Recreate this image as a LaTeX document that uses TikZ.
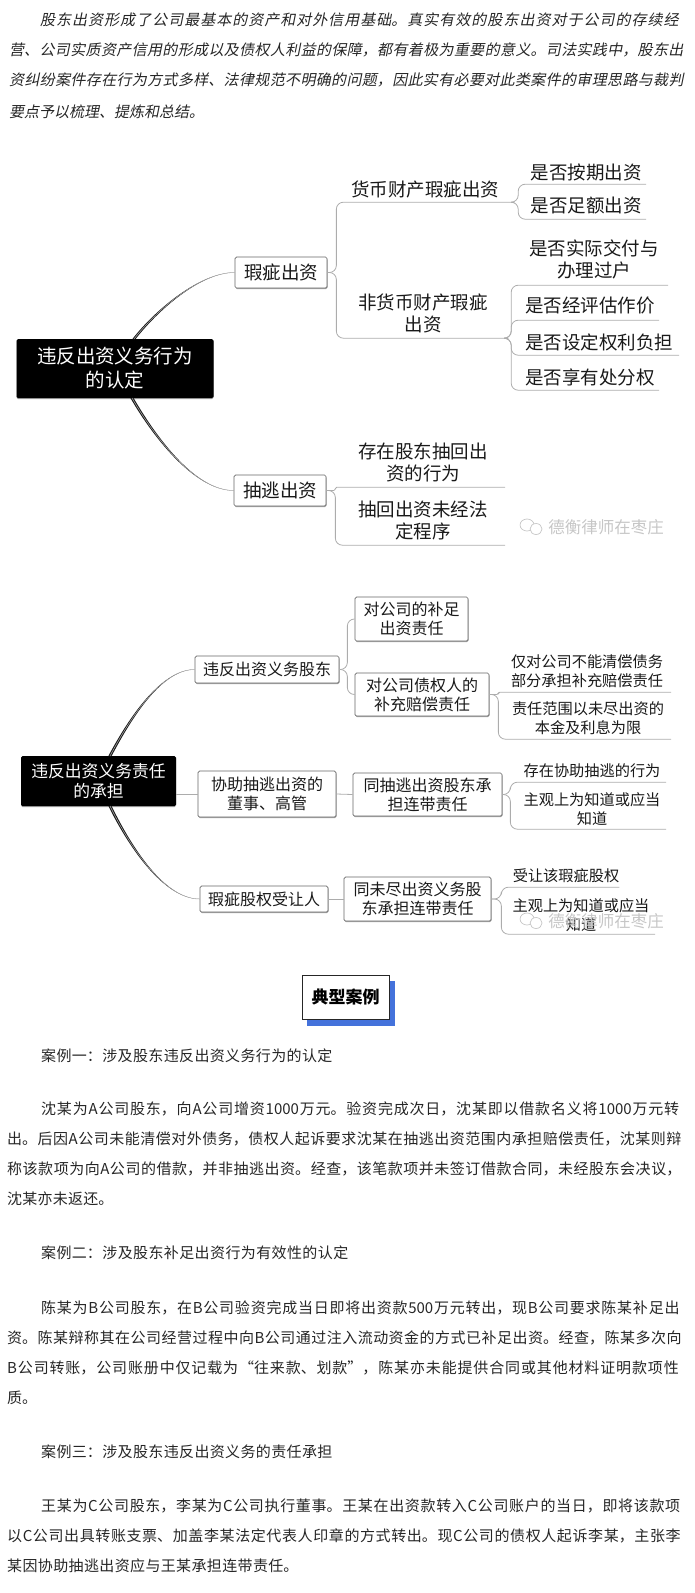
\documentclass[tikz,border=0pt]{standalone}
\usepackage{fontspec}
\setmainfont{Noto Sans CJK SC}
\newfontfamily\slantfont[FakeSlant=0.2]{Noto Sans CJK SC}
\usepackage{xcolor}
\usetikzlibrary{calc,shadows}
\XeTeXlinebreaklocale "zh"
\XeTeXlinebreakskip=0pt plus 4pt minus 1pt
\tolerance=10000
\definecolor{titleblue}{HTML}{4472DB}
\tikzset{
    bigtext/.style={font=\fontsize{18.5}{22}\selectfont, text=black!90},
    midtext/.style={font=\fontsize{16}{19}\selectfont, text=black!90},
    smalltext/.style={font=\fontsize{15.2}{19}\selectfont, text=black!90},
    leaf/.style 2 args={inner sep=0pt, minimum width=#1pt, minimum height=#2pt, align=center},
    subbox/.style 2 args={draw=gray!80!black, fill=white, line width=0.7pt, rounded corners=1.5pt, inner sep=0pt,
        minimum width=#1pt, minimum height=#2pt, align=center,
        drop shadow={shadow xshift=0.5pt, shadow yshift=-1pt, fill=gray!70, opacity=1}},
    rootbox/.style 2 args={fill=black, text=white, rounded corners=1.5pt, inner sep=0pt,
        minimum width=#1pt, minimum height=#2pt, align=center,
        drop shadow={shadow xshift=0pt, shadow yshift=-1.2pt, fill=gray!70, opacity=1}},
    branch/.style={draw=gray!65, line width=0.8pt, rounded corners=7pt},
    rootline/.style={fill=black!90},
    bodyline/.style={anchor=west, inner sep=0pt, text width=#1pt, text=black!85,
        execute at begin node={\parfillskip=0pt\relax}, font=\fontsize{15}{18}\selectfont},
    mark text/.style={text=gray!45, inner sep=0pt, font=\fontsize{16.5}{20}\selectfont}
}
\begin{document}
\begin{tikzpicture}[x=1pt, y=-1pt]
    \useasboundingbox (0, 0) rectangle (695, 1593);

    % Opening paragraph
    \foreach \x/\y/\w/\t in {
        40/20/646/{股东出资形成了公司最基本的资产和对外信用基础。真实有效的股东出资对于公司的存续经},
        9/50/677/{营、公司实质资产信用的形成以及债权人利益的保障，都有着极为重要的意义。司法实践中，股东出},
        9/80/677/{资纠纷案件存在行为方式多样、法律规范不明确的问题，因此实有必要对此类案件的审理思路与裁判},
        9/112/195/{要点予以梳理、提炼和总结。}} {
        \node[bodyline=\w] (intro\y) at (\x, \y) {\slantfont\t};
    }

    % First map
    \node[rootbox={197}{59}, font=\fontsize{19.5}{24}\selectfont] (main1) at (115, 368.5) {违反出资义务行为\\的认定};
    \node[subbox={92}{31}, bigtext] (flaw) at (281, 272.5) {瑕疵出资};
    \node[subbox={92}{31}, bigtext] (pull) at (280, 490.5) {抽逃出资};
    \node[leaf={178}{26}, bigtext] (cash) at (425, 189) {货币财产瑕疵出资};
    \node[leaf={170}{50}, bigtext] (noncash) at (423, 313) {非货币财产瑕疵\\出资};
    \node[leaf={120}{24}, bigtext] (term) at (586, 172) {是否按期出资};
    \node[leaf={120}{26}, bigtext] (full) at (586, 206) {是否足额出资};
    \node[leaf={148}{52}, bigtext] (deliver) at (594, 259) {是否实际交付与\\办理过户};
    \node[leaf={138}{28}, bigtext] (valued) at (590, 306) {是否经评估作价};
    \node[leaf={160}{26}, bigtext] (burden) at (599, 342) {是否设定权利负担};
    \node[leaf={138}{26}, bigtext] (dispose) at (590, 377) {是否享有处分权};
    \node[leaf={164}{49}, bigtext] (act) at (423, 462.5) {存在股东抽回出\\资的行为};
    \node[leaf={164}{50}, bigtext] (proc) at (423, 520) {抽回出资未经法\\定程序};

    \foreach \a/\b in {flaw/cash, flaw/noncash, pull/proc} {
        \draw[branch] (\a.east) -- ++(9, 0) |- (\b.south east);
    }
    \draw[branch, rounded corners=1.5pt] (pull.east) -- ++(9, 0) |- (act.south east);
    \foreach \a/\b/\s in {cash/term/4, cash/full/4, noncash/deliver/3, noncash/valued/3, noncash/burden/3, noncash/dispose/3} {
        \draw[branch] (\a.south east) -- ++(\s, 0) |- (\b.south east);
    }

    % Second map
    \node[rootbox={155}{50}, font=\fontsize{16.8}{20}\selectfont] (main2) at (98.5, 781) {违反出资义务责任\\的承担};
    \node[subbox={144}{27}, midtext] (holder) at (267, 669.5) {违反出资义务股东};
    \node[subbox={113}{44}, midtext] (topay) at (411.5, 619) {对公司的补足\\出资责任};
    \node[subbox={134}{43}, midtext] (tocred) at (422, 694.5) {对公司债权人的\\补充赔偿责任};
    \node[subbox={138}{46}, midtext] (officer) at (267, 794) {协助抽逃出资的\\董事、高管};
    \node[subbox={149}{43}, midtext] (joint) at (427.5, 794.5) {同抽逃出资股东承\\担连带责任};
    \node[subbox={128}{26}, midtext] (buyer) at (264, 899) {瑕疵股权受让人};
    \node[subbox={147}{44}, midtext] (joint2) at (417.5, 899) {同未尽出资义务股\\东承担连带责任};
    \node[leaf={168}{41}, smalltext] (part) at (587, 671.5) {仅对公司不能清偿债务\\部分承担补充赔偿责任};
    \node[leaf={166}{41}, smalltext] (scope) at (588, 718.5) {责任范围以未尽出资的\\本金及利息为限};
    \node[leaf={148}{22}, smalltext] (help) at (592, 771) {存在协助抽逃的行为};
    \node[leaf={148}{40}, smalltext] (know) at (592, 809) {主观上为知道或应当\\知道};
    \node[leaf={106}{22}, smalltext] (take) at (566, 876) {受让该瑕疵股权};
    \node[leaf={148}{38}, smalltext] (know2) at (581, 915) {主观上为知道或应当\\知道};

    \foreach \a/\b in {holder/topay, holder/tocred} {
        \draw[branch] (\a.east) -- ++(8, 0) |- (\b.west);
    }
    \draw[branch, rounded corners=1.5pt] (tocred.east) -- ++(9, 0) |- (part.south east);
    \foreach \a/\b/\s in {tocred/scope/9, joint/help/8, joint/know/8, joint2/take/10, joint2/know2/10} {
        \draw[branch] (\a.east) -- ++(\s, 0) |- (\b.south east);
    }
    \draw[branch] (main2.east |- officer.west) -- (officer.west);
    \foreach \a/\b in {officer/joint, buyer/joint2} {
        \draw[branch] (\a.east) -- (\b.west);
    }

    % Curves out of the two dark boxes
    \coordinate (r1) at (134, 339);
    \coordinate (r2) at (132, 398);
    \coordinate (r3) at (110, 756);
    \coordinate (r4) at (110, 806);
    \foreach \r/\b/\o in {r1/flaw/52, r2/pull/-60, r3/holder/62, r4/buyer/-64} {
        \fill[rootline] ($(\r)+(-1.6, 0)$) to[out=\o, in=180, looseness=0.75] (\b.west) to[out=180, in=\o, looseness=0.75] ($(\r)+(1.6, 0)$) -- cycle;
        \draw[gray!60, line width=0.5pt] (\r) to[out=\o, in=180, looseness=0.75] (\b.west);
    }

    % Watermarks
    \foreach \n/\y in {m1/527, m2/921} {
        \node[mark text] (\n) at (606, \y) {德衡律师在枣庄};
        \draw[gray!45, line width=0.7pt] ($(\n.west)+(-21, -2)$) ellipse (7 and 6);
        \draw[gray!45, line width=0.7pt, fill=white] ($(\n.west)+(-12, 2)$) ellipse (6 and 5.5);
    }

    % Title block
    \node[fill=titleblue, inner sep=0pt, minimum width=88.5pt, minimum height=45pt] (titleback) at (351.2, 1003.5) {};
    \node[draw=black!85, fill=white, line width=0.8pt, inner sep=0pt, minimum width=87pt, minimum height=44pt,
        font=\fontsize{17}{20}\selectfont\bfseries] (title) at (345.5, 997) {典型案例};

    % Cases
    \foreach \x/\y/\w/\t in {
        41/1056/294/{案例一：涉及股东违反出资义务行为的认定},
        41/1109/644/{沈某为A公司股东，向A公司增资1000万元。验资完成次日，沈某即以借款名义将1000万元转},
        7/1139/678/{出。后因A公司未能清偿对外债务，债权人起诉要求沈某在抽逃出资范围内承担赔偿责任，沈某则辩},
        7/1169/678/{称该款项为向A公司的借款，并非抽逃出资。经查，该笔款项并未签订借款合同，未经股东会决议，},
        7/1199/108/{沈某亦未返还。},
        41/1253/310/{案例二：涉及股东补足出资行为有效性的认定},
        41/1308/644/{陈某为B公司股东，在B公司验资完成当日即将出资款500万元转出，现B公司要求陈某补足出},
        7/1338/678/{资。陈某辩称其在公司经营过程中向B公司通过注入流动资金的方式已补足出资。经查，陈某多次向},
        7/1368/678/{B公司转账，公司账册中仅记载为“往来款、划款”，陈某亦未能提供合同或其他材料证明款项性},
        7/1398/31/{质。},
        41/1452/294/{案例三：涉及股东违反出资义务的责任承担},
        41/1506/644/{王某为C公司股东，李某为C公司执行董事。王某在出资款转入C公司账户的当日，即将该款项},
        7/1536/678/{以C公司出具转账支票、加盖李某法定代表人印章的方式转出。现C公司的债权人起诉李某，主张李},
        7/1566/294/{某因协助抽逃出资应与王某承担连带责任。}} {
        \node[bodyline=\w] (case\y) at (\x, \y) {\t};
    }
\end{tikzpicture}
\end{document}
